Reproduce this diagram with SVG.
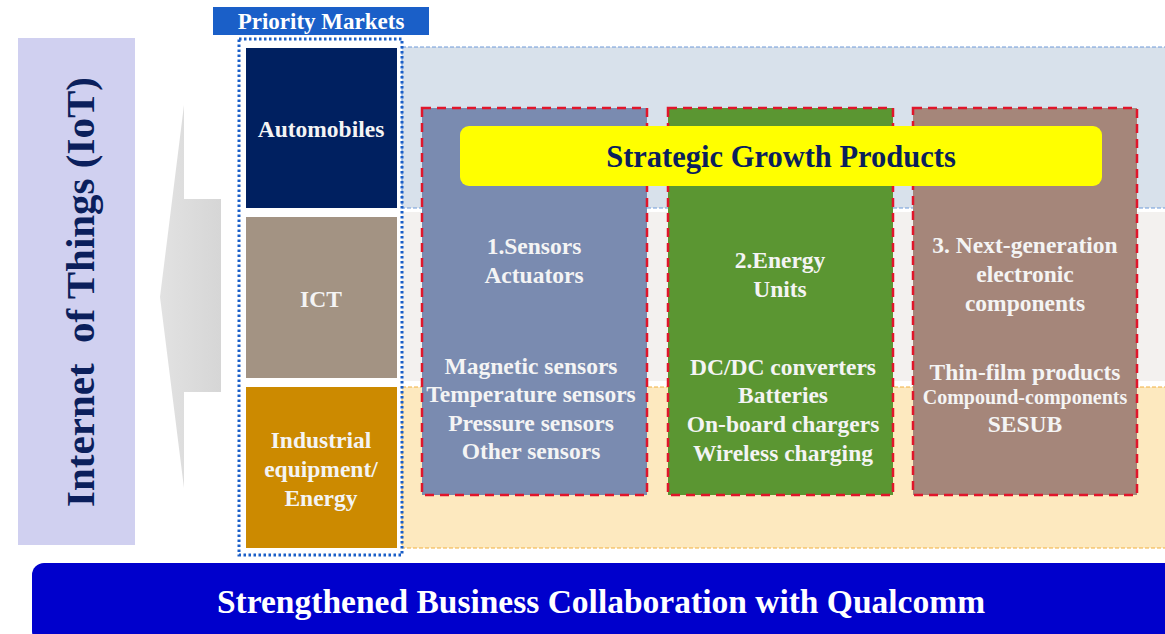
<svg xmlns="http://www.w3.org/2000/svg" width="1165" height="634" viewBox="0 0 1165 634">
  <style>
    text { font-family: "Liberation Serif", "Times New Roman", serif; font-weight: bold; text-anchor: middle; }
    .w { fill: #f4f4f4; }
    .lbl { font-size: 23.5px; }
    .mk { font-size: 23.5px; }
    .prod { stroke: #e0162b; stroke-width: 2.5; stroke-dasharray: 9 6; }
  </style>
  <defs>
    <linearGradient id="arrowFill" x1="0" y1="0" x2="1" y2="0">
      <stop offset="0" stop-color="#e2e2e2"/>
      <stop offset="1" stop-color="#d6d6d6"/>
    </linearGradient>
  </defs>

  <rect width="1165" height="634" fill="#ffffff"/>

  <!-- market bands -->
  <g id="bands">
    <rect x="402" y="47" width="770" height="161" fill="#d8e1eb" stroke="#6f9ad8" stroke-width="1" stroke-dasharray="4 2"/>
    <rect x="402" y="212" width="770" height="169" fill="#f3f1ef"/>
    <rect x="402" y="387" width="770" height="161" fill="#fde9bf" stroke="#f0b040" stroke-width="1" stroke-dasharray="4 2"/>
  </g>

  <!-- IoT panel -->
  <g id="iot">
    <rect x="18" y="38" width="117" height="507" fill="#d0d0f0"/>
    <text transform="translate(94 292) rotate(-90)" font-size="41" fill="#0b1f5c" xml:space="preserve">Internet  of Things (IoT)</text>
  </g>

  <!-- big left arrow -->
  <g id="arrow">
    <polygon points="221,199 184,199 184,105 160,297 184,488 184,392 221,392" fill="url(#arrowFill)"/>
  </g>

  <!-- priority markets -->
  <g id="priority-markets">
    <rect x="213" y="7" width="216" height="28" fill="#1a5fc8"/>
    <text x="321" y="29" font-size="23" fill="#ffffff">Priority Markets</text>
    <rect x="239" y="39" width="163" height="516" fill="none" stroke="#1a5fc8" stroke-width="3" stroke-dasharray="2.5 2.5"/>
  </g>

  <g id="automobiles">
    <rect x="246" y="48" width="151" height="160" fill="#002060"/>
    <text class="w mk" x="321" y="137">Automobiles</text>
  </g>
  <g id="ict">
    <rect x="246" y="217" width="151" height="161" fill="#a39383"/>
    <text class="w mk" x="321" y="307">ICT</text>
  </g>
  <g id="industrial">
    <rect x="246" y="387" width="151" height="161" fill="#cc8a00"/>
    <text class="w mk" x="321" y="448">Industrial</text>
    <text class="w mk" x="321" y="477">equipment/</text>
    <text class="w mk" x="321" y="506">Energy</text>
  </g>

  <!-- product columns -->
  <g id="sensors">
    <rect class="prod" x="422" y="108" width="225" height="387" fill="#7a8bb0"/>
    <text class="w lbl" x="534" y="254">1.Sensors</text>
    <text class="w lbl" x="534" y="283">Actuators</text>
    <text class="w lbl" x="531" y="374">Magnetic sensors</text>
    <text class="w lbl" x="531" y="402">Temperature sensors</text>
    <text class="w lbl" x="531" y="431">Pressure sensors</text>
    <text class="w lbl" x="531" y="459">Other sensors</text>
  </g>
  <g id="energy">
    <rect class="prod" x="668" y="108" width="225" height="387" fill="#5b9632"/>
    <text class="w lbl" x="780" y="268">2.Energy</text>
    <text class="w lbl" x="780" y="297">Units</text>
    <text class="w lbl" x="783" y="375">DC/DC converters</text>
    <text class="w lbl" x="783" y="403">Batteries</text>
    <text class="w lbl" x="783" y="432">On-board chargers</text>
    <text class="w lbl" x="783" y="461">Wireless charging</text>
  </g>
  <g id="next-gen">
    <rect class="prod" x="913" y="108" width="224" height="387" fill="#a5867a"/>
    <text class="w lbl" x="1025" y="253">3. Next-generation</text>
    <text class="w lbl" x="1025" y="282">electronic</text>
    <text class="w lbl" x="1025" y="311">components</text>
    <text class="w lbl" x="1025" y="380">Thin-film products</text>
    <text class="w" x="1025" y="404" font-size="20">Compound-components</text>
    <text class="w lbl" x="1025" y="432">SESUB</text>
  </g>

  <!-- banner -->
  <g id="strategic-growth">
    <rect x="460" y="126" width="642" height="60" rx="9" fill="#ffff00"/>
    <text x="781" y="167" font-size="30.5" fill="#0b1f5c">Strategic Growth Products</text>
  </g>

  <!-- bottom bar -->
  <g id="qualcomm">
    <rect x="32" y="563" width="1150" height="80" rx="12" fill="#0000cc"/>
    <text x="601" y="613" font-size="33.5" fill="#ffffff">Strengthened Business Collaboration with Qualcomm</text>
  </g>

  <!-- connectors: none drawn in this layout -->
  <g id="connectors"/>
</svg>
